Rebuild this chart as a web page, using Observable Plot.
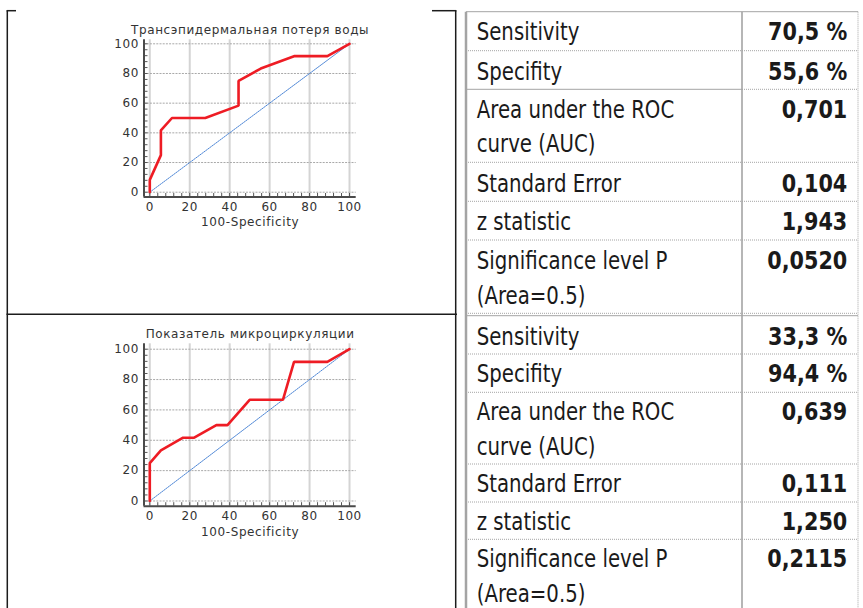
<!DOCTYPE html>
<html><head><meta charset="utf-8">
<script src="https://cdn.jsdelivr.net/npm/d3@7"></script>
<script src="https://cdn.jsdelivr.net/npm/@observablehq/plot@0.6"></script>
<style>
html,body{margin:0;padding:0;background:#fff;}
#page{position:relative;width:863px;height:608px;overflow:hidden;background:#fff;}
.chart{position:absolute;left:0;}
#overlay{position:absolute;left:0;top:0;}
</style></head><body><div id="page"></div>
<script>
// ---- data ----
const titles = ["Трансэпидермальная потеря воды", "Показатель микроциркуляции"];
const xLabel = "100-Specificity";
const axisTicks = [0, 20, 40, 60, 80, 100];
const roc1X = [0, 0, 5.56, 5.56, 11.11, 27.78, 44.44, 44.44, 55.56, 72.22, 88.89, 100];
const roc1Y = [0, 8.33, 25, 41.67, 50, 50, 58.33, 75, 83.33, 91.67, 91.67, 100];
const roc2X = [0, 0, 5.56, 16.67, 22.22, 33.33, 38.89, 50, 66.67, 72.22, 88.89, 100];
const roc2Y = [0, 25, 33.33, 41.67, 41.67, 50, 50, 66.67, 66.67, 91.67, 91.67, 100];
const statLabels = [["Sensitivity"], ["Specifity"], ["Area under the ROC", "curve (AUC)"], ["Standard Error"], ["z statistic"], ["Significance level P", "(Area=0.5)"]];
const stats1 = ["70,5 %", "55,6 %", "0,701", "0,104", "1,943", "0,0520"];
const stats2 = ["33,3 %", "94,4 %", "0,639", "0,111", "1,250", "0,2115"];

// ---- charts ----
const page = document.getElementById("page");
function roc({title, xs, ys, top, mt, mb, yDom}) {
  const W = 420, H = 240;
  const left = 143.5, right = 355.7;
  const xDom = [-2.9, 103.35];
  const pxX = (right - left) / (xDom[1] - xDom[0]);
  const pxY = (H - mt - mb) / (yDom[1] - yDom[0]);
  const pts = xs.map((x, i) => ({x, y: ys[i]}));
  const minor = d3.range(0, 101, 4);
  const p = Plot.plot({
    width: W, height: H,
    marginLeft: left, marginRight: W - right, marginTop: mt, marginBottom: mb,
    x: {domain: xDom},
    y: {domain: yDom},
    style: {fontFamily: "'DejaVu Sans', sans-serif", fontSize: "12px", color: "#333", background: "transparent", letterSpacing: "0.6px"},
    marks: [
      Plot.ruleX(axisTicks, {stroke: "#d4d4d4", strokeWidth: 2}),
      Plot.ruleY(axisTicks, {stroke: "#a8a8a8", strokeWidth: 1, strokeDasharray: "2,1.2"}),
      Plot.line([{x: 0, y: 0}, {x: 100, y: 100}], {x: "x", y: "y", stroke: "#4d86d6", strokeWidth: 1, strokeDasharray: "1.5,1"}),
      Plot.line(pts, {x: "x", y: "y", stroke: "#ee1c24", strokeWidth: 2.6, strokeLinejoin: "miter"}),
      Plot.ruleY(minor, {x1: xDom[0], x2: xDom[0] + 4 / pxX, stroke: "#555", strokeWidth: 1}),
      Plot.ruleX(minor, {y1: yDom[0], y2: yDom[0] + 3.5 / pxY, stroke: "#555", strokeWidth: 1}),
      Plot.ruleX([xDom[0]], {stroke: "#4a4a4a", strokeWidth: 2}),
      Plot.ruleY([yDom[0]], {stroke: "#4a4a4a", strokeWidth: 2}),
      Plot.axisX(axisTicks, {tickSize: 0, tickPadding: 5, label: null}),
      Plot.axisY(axisTicks, {tickSize: 0, tickPadding: 5, label: null}),
      Plot.text([xLabel], {frameAnchor: "bottom", dy: 25.5, lineAnchor: "middle"}),
      Plot.text([title], {frameAnchor: "top", dy: -10, lineAnchor: "middle"})
    ]
  });
  p.classList.add("chart");
  p.style.top = top + "px";
  page.appendChild(p);
}
roc({title: titles[0], xs: roc1X, ys: roc1Y, top: 0, mt: 39.3, mb: 43.5, yDom: [-3.23, 102.7]});
roc({title: titles[1], xs: roc2X, ys: roc2Y, top: 300, mt: 43.3, mb: 34.3, yDom: [-3.43, 103.56]});

// ---- table / frame overlay ----
const svg = d3.select(page).append("svg").attr("id", "overlay").attr("width", 863).attr("height", 608);
const black = (x1, y1, x2, y2) => svg.append("line").attr("x1", x1).attr("y1", y1).attr("x2", x2).attr("y2", y2).attr("stroke", "#1c1c1c").attr("stroke-width", 1.5);
const gray = (x1, y1, x2, y2, w, dash) => svg.append("line").attr("x1", x1).attr("y1", y1).attr("x2", x2).attr("y2", y2).attr("stroke", "#a4a4a4").attr("stroke-width", w).attr("stroke-dasharray", dash || null);

black(7.3, 10.7, 7.3, 608);
black(6.5, 10.7, 16, 10.7);
black(432, 10.7, 456.5, 10.7);
black(455.7, 10.7, 455.7, 608);
black(6.5, 314.3, 457, 314.3);

const L = 466, M = 742, R = 858;
gray(L, 11.7, L, 608, 2.5);
gray(M, 11.7, M, 608, 1.6);
gray(R, 11.7, R, 608, 1, "1,1");

const blocks = [
  {top: 11.7, seps: [50.7, 89.3, 162.3, 201.3, 240, 313.3], solid: 1,
   base: [[40.3], [80], [118.3, 151.7], [191.7], [230], [269, 304]], vals: stats1},
  {top: 315.7, seps: [354, 392.3, 464, 502, 539.3], solid: -1,
   base: [[345], [381.7], [420, 455], [492.3], [530], [567.3, 602.3]], vals: stats2}
];
for (const b of blocks) {
  gray(L, b.top, R, b.top, 1);
  b.seps.forEach((y, i) => {
    if (i === b.solid) { gray(L, y, M, y, 1); gray(M, y, R, y, 1, "1,1"); }
    else gray(L, y, R, y, 1, "1,1");
  });
  statLabels.forEach((lines, i) => {
    lines.forEach((t, j) => {
      svg.append("text").attr("transform", `translate(476.7,${b.base[i][j]}) scale(0.79,1)`)
        .attr("font-family", "'DejaVu Sans', sans-serif").attr("font-size", 25).attr("fill", "#1a1a1a").text(t);
    });
    svg.append("text").attr("transform", `translate(847.3,${b.base[i][0]}) scale(0.83,1)`)
      .attr("text-anchor", "end").attr("font-family", "'DejaVu Sans', sans-serif").attr("font-weight", "bold")
      .attr("font-size", 25).attr("fill", "#1a1a1a").text(b.vals[i]);
  });
}
</script></body></html>
